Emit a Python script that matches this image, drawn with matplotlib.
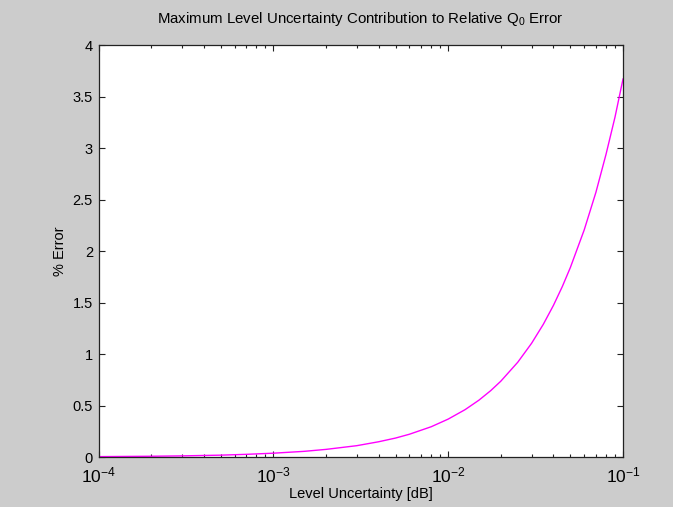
import matplotlib
matplotlib.use("Agg")
import matplotlib.pyplot as plt

plt.rcParams["font.family"] = ["Liberation Sans", "DejaVu Sans"]
plt.rcParams["mathtext.default"] = "regular"

# level uncertainty [dB] and resulting % error
level_db = [1e-4, 2e-4, 3e-4, 5e-4, 7e-4, 1e-3, 1.5e-3, 2e-3, 3e-3, 4e-3,
            5e-3, 6e-3, 8e-3, 0.01, 0.0125, 0.015, 0.0175, 0.02, 0.025,
            0.03, 0.035, 0.04, 0.045, 0.05, 0.06, 0.07, 0.08, 0.09, 0.1]
pct_error = [0.0037, 0.0074, 0.011, 0.018, 0.026, 0.037, 0.055, 0.074, 0.11,
             0.148, 0.184, 0.221, 0.294, 0.368, 0.46, 0.552, 0.644, 0.736,
             0.92, 1.104, 1.288, 1.472, 1.656, 1.84, 2.205, 2.57, 2.94,
             3.30, 3.67]

fig = plt.figure(figsize=(6.73, 5.07), dpi=100, facecolor="#cccccc")
ax = fig.add_axes([0.1464, 0.0986, 0.7793, 0.8126])
ax.set_facecolor("white")

ax.plot(level_db, pct_error, color="#ff00ff", linewidth=1.0)

ax.set_xscale("log")
ax.set_xlim(1e-4, 1e-1)
ax.set_ylim(0, 4)
ax.set_yticks([0, 0.5, 1, 1.5, 2, 2.5, 3, 3.5, 4])
ax.set_yticklabels(["0", "0.5", "1", "1.5", "2", "2.5", "3", "3.5", "4"])

ax.tick_params(which="both", direction="in", top=True, right=True,
               colors="#222222", labelcolor="black")
ax.tick_params(axis="y", labelsize=10.5, pad=4)
ax.tick_params(axis="x", labelsize=12.5, pad=6)
ax.tick_params(which="major", length=4, width=0.8)
ax.tick_params(which="minor", length=2.5, width=0.8)
for sp in ax.spines.values():
    sp.set_linewidth(0.9)
    sp.set_color("#222222")

ax.set_title("Maximum Level Uncertainty Contribution to Relative Q$_0$ Error",
             fontsize=10.8, pad=16)
ax.set_xlabel("Level Uncertainty [dB]", fontsize=10.5, labelpad=1)
ax.set_ylabel("% Error", fontsize=10.5, labelpad=4)

fig.savefig("out.png", dpi=100, facecolor=fig.get_facecolor())
